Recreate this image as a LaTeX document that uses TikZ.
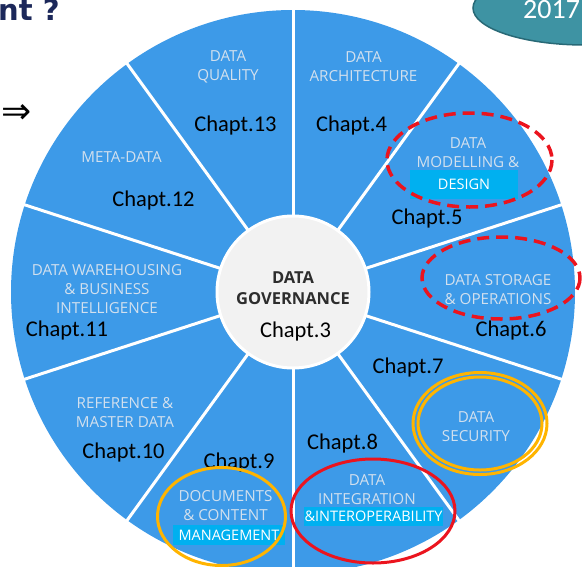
\documentclass[tikz,border=0pt]{standalone}
\usepackage{fontspec}
\setmainfont{Carlito}
\newfontfamily\segfont{Open Sans}
\newfontfamily\symfont{DejaVu Sans}
\usetikzlibrary{positioning}
\definecolor{wheelblue}{RGB}{61,154,232}
\definecolor{hubgray}{RGB}{242,242,242}
\definecolor{labelgray}{RGB}{210,224,238}
\definecolor{boxcyan}{RGB}{0,176,240}
\definecolor{markred}{RGB}{235,20,30}
\definecolor{markgold}{RGB}{255,180,0}
\definecolor{yearteal}{RGB}{62,147,163}
\definecolor{yearedge}{RGB}{40,105,118}
\definecolor{titlenavy}{RGB}{28,40,90}
\definecolor{govtext}{RGB}{45,45,45}

\begin{document}
\begin{tikzpicture}[x=1pt,y=-1pt,
    area/.style={align=center,text=labelgray,inner sep=0pt,font=\segfont\fontsize{15.2}{19}\selectfont},
    chapt/.style={inner sep=0pt,font=\fontsize{22.5}{27}\selectfont},
    hilite/.style={fill=boxcyan,text=white,inner sep=0pt,font=\segfont\fontsize{14.5}{16}\selectfont},
    dashring/.style={markred,line width=3.5pt,dash pattern=on 12pt off 7pt},
    fullring/.style={markred,line width=3pt},
    goldring/.style={markgold,line width=3pt}]
    \clip (0,0) rectangle (582,566);
    \coordinate (wheel) at (293,292);
                % wheel and spokes
                \fill[wheelblue] (wheel) circle (282);
                \foreach \a in {18,54,...,342}
                    \draw[white,line width=3pt] (wheel) ++(\a:76) -- ++(\a:210);
                \node[circle,fill=hubgray,draw=white,line width=3pt,minimum size=152pt] at (wheel) (hub) {};
                \node[align=center,text=govtext,inner sep=0pt,font=\segfont\bfseries\fontsize{16.5}{21}\selectfont] at (293,288) (gov) {DATA\\GOVERNANCE};
                \node[chapt] at (295.5,331) (ch3) {Chapt.3};
                % knowledge areas
                \node[area] at (228,67) (quality) {DATA\\QUALITY};
                \node[area] at (363.5,67) (archi) {DATA\\ARCHITECTURE};
                \node[area] at (468,153) (model) {DATA\\MODELLING \&};
                \node[area] at (498,290) (storage) {DATA STORAGE\\\& OPERATIONS};
                \node[area] at (476,426.5) (security) {DATA\\SECURITY};
                \node[area] at (367,490) (integ) {DATA\\INTEGRATION};
                \node[area] at (225.5,506) (docs) {DOCUMENTS\\\& CONTENT};
                \node[area] at (125,412.5) (refdata) {REFERENCE \&\\MASTER DATA};
                \node[area] at (107,289) (warehouse) {DATA WAREHOUSING\\\& BUSINESS\\INTELLIGENCE};
                \node[area] at (121.5,157) (meta) {META-DATA};
                \node[hilite,minimum width=108pt,minimum height=29pt] at (464,184.5) (design) {DESIGN};
                \node[hilite,minimum width=112pt,minimum height=20pt] at (229,535) (manage) {MANAGEMENT};
                \node[hilite,minimum width=139pt,minimum height=19pt] at (373.5,516.5) (interop) {\&INTEROPERABILITY};
                % chapter numbers
                \node[chapt] at (235.5,125) (ch13) {Chapt.13};
                \node[chapt] at (351.5,125) (ch4) {Chapt.4};
                \node[chapt] at (427,218) (ch5) {Chapt.5};
                \node[chapt] at (511,330) (ch6) {Chapt.6};
                \node[chapt] at (408,367) (ch7) {Chapt.7};
                \node[chapt] at (342.5,443) (ch8) {Chapt.8};
                \node[chapt] at (239,462) (ch9) {Chapt.9};
                \node[chapt] at (123.5,452) (ch10) {Chapt.10};
                \node[chapt] at (67,330) (ch11) {Chapt.11};
                \node[chapt] at (153.5,200) (ch12) {Chapt.12};
                % marks
                \draw[dashring] (469.5,160) ellipse (82.5 and 47);
                \draw[dashring] (501,278) ellipse (79 and 41);
                \draw[goldring] (480,423.5) ellipse (67 and 51);
                \draw[goldring] (480,423.5) ellipse (62 and 46.5);
                \draw[goldring] (221.5,516.5) ellipse (64 and 49);
                \draw[fullring] (373,511) ellipse (82 and 52);
                % slide leftovers
                \node[anchor=base west,text=titlenavy,inner sep=0pt,font=\symfont\bfseries\fontsize{29}{32}\selectfont] at (-2,20) (title) {nt ?};
                \node[inner sep=0pt,font=\symfont\fontsize{36}{40}\selectfont] at (17,114) (implies) {⇒};
                \draw[fill=yearteal,draw=yearedge,line width=1.5pt] (585,8) ellipse (112 and 37);
                \node[anchor=base west,text=white,inner sep=0pt,font=\fontsize{28}{30}\selectfont] at (523,18) (year) {2017};
            \end{tikzpicture}
\end{document}
